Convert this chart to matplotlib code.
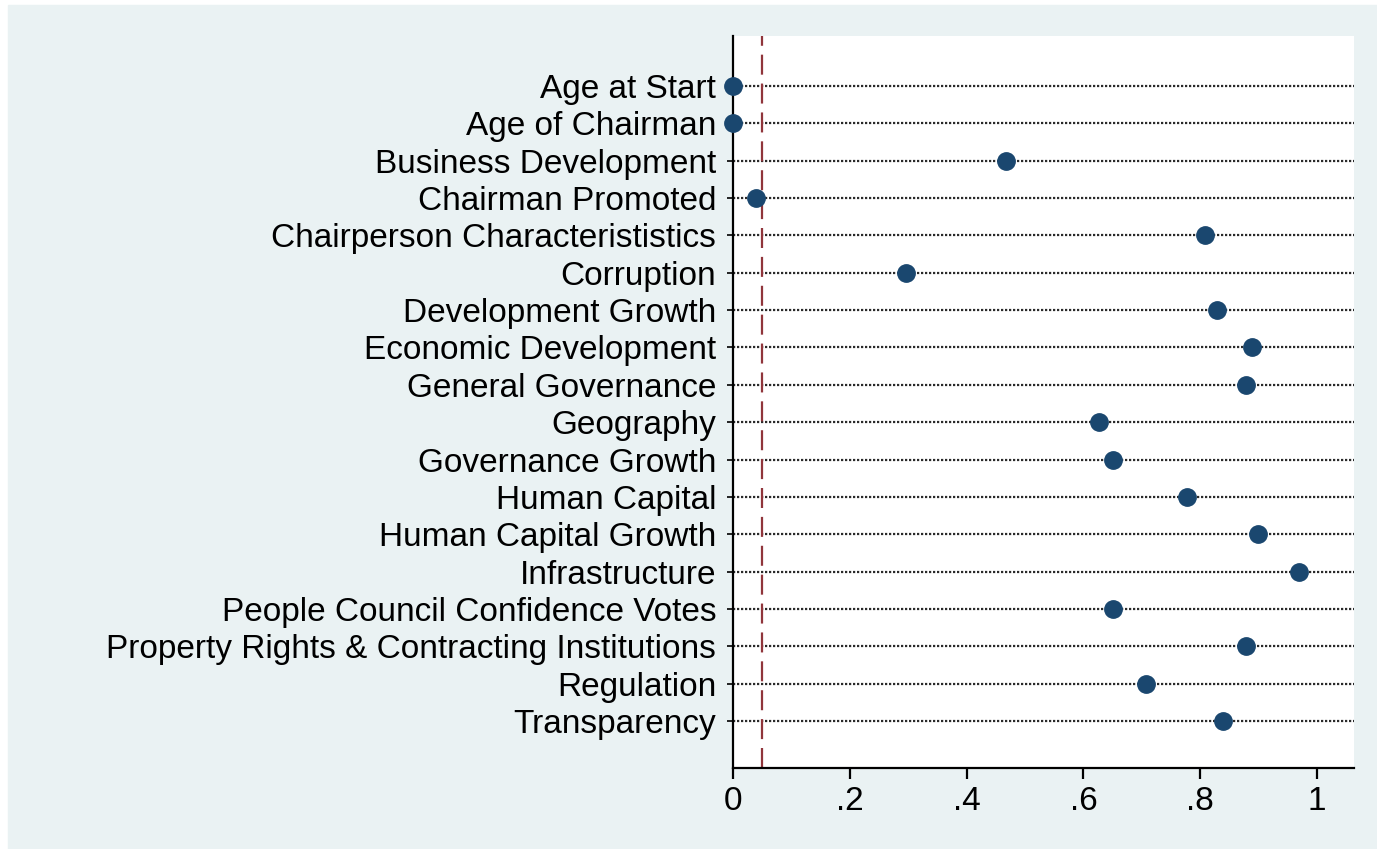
import numpy as np
import matplotlib.pyplot as plt
from matplotlib.patches import Rectangle

plt.rcParams['font.family'] = ['Liberation Sans', 'DejaVu Sans']

labels = [
    'Age at Start', 'Age of Chairman', 'Business Development',
    'Chairman Promoted', 'Chairperson Characterististics', 'Corruption',
    'Development Growth', 'Economic Development', 'General Governance',
    'Geography', 'Governance Growth', 'Human Capital',
    'Human Capital Growth', 'Infrastructure',
    'People Council Confidence Votes',
    'Property Rights & Contracting Institutions', 'Regulation',
    'Transparency',
]
pvals = [0.0, 0.0, 0.468, 0.039, 0.809, 0.297, 0.829, 0.889, 0.879,
         0.627, 0.650, 0.778, 0.899, 0.969, 0.650, 0.879, 0.708, 0.839]
xticks = [0, 0.2, 0.4, 0.6, 0.8, 1]
xticklabels = ['0', '.2', '.4', '.6', '.8', '1']
cutoff = 0.05

W, H = 1377, 849
fig = plt.figure(figsize=(W / 100, H / 100), dpi=100, facecolor='white')
bg = Rectangle((8 / W, 0), 1 - 8 / W, 1 - 5 / H, transform=fig.transFigure,
               color='#EAF2F3', zorder=-10)
fig.add_artist(bg)

ax = fig.add_axes([733 / W, 1 - 768 / H, (1354 - 733) / W, (768 - 36) / H])
ax.set_facecolor('white')

y = np.arange(len(labels))
for yi in y:
    ax.axhline(yi, color='#2a2a2a', lw=1.6, ls=(0, (1, 0.8)), zorder=1)
ax.axvline(cutoff, color='#90353B', lw=1.6, ls=(0, (9, 4)), zorder=2)
ax.plot(pvals, y, 'o', color='#1A476F', ms=12.5, zorder=3, clip_on=False)

ax.set_xlim(0, (1354 - 733) / 584)
ax.set_ylim(len(labels) - 1 + 47 / 37.35, -50 / 37.35)
ax.set_yticks(y)
ax.set_yticklabels(labels)
ax.set_xticks(xticks)
ax.set_xticklabels(xticklabels)

ax.tick_params(axis='y', length=4, width=1.2, pad=8, labelsize=24,
               colors='black')
ax.tick_params(axis='x', length=8, width=1.6, pad=5, labelsize=24,
               colors='black')
for s in ['top', 'right']:
    ax.spines[s].set_visible(False)
for s in ['left', 'bottom']:
    ax.spines[s].set_linewidth(1.6)
    ax.spines[s].set_color('black')

fig.savefig('out.png', dpi=100, facecolor=fig.get_facecolor())
